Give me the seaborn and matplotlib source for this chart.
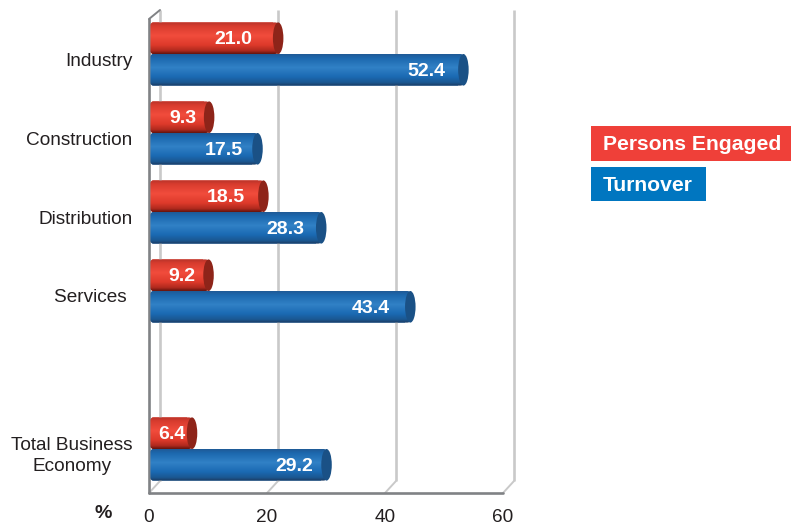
import numpy as np
import pandas as pd
import matplotlib
matplotlib.use("Agg")
import matplotlib.pyplot as plt
import matplotlib.transforms as mtrans
from matplotlib.colors import LinearSegmentedColormap
from matplotlib.patches import Ellipse, FancyBboxPatch, Rectangle
import seaborn as sns

categories = ["Industry", "Construction", "Distribution", "Services ", " ", "Total Business\nEconomy"]
persons = [21.0, 9.3, 18.5, 9.2, np.nan, 6.4]
turnover = [52.4, 17.5, 28.3, 43.4, np.nan, 29.2]
series_names = ["Persons Engaged", "Turnover"]
x_ticks = [0, 20, 40, 60]

sns.set_theme(style="white")
plt.rcParams["font.family"] = ["Liberation Sans", "DejaVu Sans"]

W, H = 791, 530
PX_X = 354 / 60   # pixels per x unit
PX_Y = 79.0       # pixels per category
DEPTH_X = 11 / PX_X
DEPTH_Y = 12 / PX_Y
CAP_W = 10.5 / PX_X

fig = plt.figure(figsize=(W / 100, H / 100), dpi=100)
ax = fig.add_axes([149 / W, (H - 493) / H, 354 / W, 483 / H])

df = pd.DataFrame({
    "category": categories * 2,
    "series": [series_names[0]] * 6 + [series_names[1]] * 6,
    "value": persons + turnover,
})
palette = {series_names[0]: "#E8402F", series_names[1]: "#1E6FB8"}
sns.barplot(data=df, y="category", x="value", hue="series", order=categories,
            hue_order=series_names, palette=palette, orient="h", dodge=True,
            width=0.8, gap=0, saturation=1, legend=False, ax=ax, linewidth=0)

red_cm = LinearSegmentedColormap.from_list("r", [
    (0, "#b8342a"), (0.12, "#d83c2e"), (0.42, "#f14c3c"), (0.72, "#de3a2b"),
    (0.9, "#b02a1e"), (1, "#66140e")])
blue_cm = LinearSegmentedColormap.from_list("b", [
    (0, "#1f5a97"), (0.12, "#1c68ae"), (0.42, "#3181c6"), (0.72, "#1a69b2"),
    (0.9, "#1b5791"), (1, "#1b3a60")])
cap_colors = ["#8E2419", "#1A5186"]
grad = np.linspace(0, 1, 64).reshape(-1, 1)

# gaps (pixels) between the right edge of each value label and the bar value
label_gap_px = [[21, 7, 13, 8, None, 1], [13, 9, 12, 15, None, 8]]

bars = iter(ax.patches)
for s, (cmap, cap, vals) in enumerate(zip([red_cm, blue_cm], cap_colors, [persons, turnover])):
    for i, v in enumerate(vals):
        if np.isnan(v):
            continue
        p = next(bars)
        y0, h = p.get_y(), p.get_height()
        end = p.get_width() + CAP_W / 2
        clip = FancyBboxPatch((0.25, y0), end - 0.25, h,
                              boxstyle="round,pad=0,rounding_size=0.5",
                              mutation_aspect=0.076, transform=ax.transData,
                              fc="none", ec="none")
        ax.add_patch(clip)
        p.set_clip_path(clip)
        im = ax.imshow(grad, cmap=cmap, aspect="auto", origin="upper",
                       extent=[0, end, y0 + h, y0], zorder=3 + s * 0.1,
                       interpolation="bilinear")
        im.set_clip_path(clip)
        ax.add_patch(Ellipse((end, y0 + h / 2), CAP_W, h, fc=cap, ec="none",
                             zorder=3.05 + s * 0.1, clip_on=False))
        ax.annotate(f"{v:.1f}", xy=(p.get_width(), y0 + h / 2),
                    xytext=(-label_gap_px[s][i] * 0.72, -1), textcoords="offset points",
                    ha="right", va="center", color="white", fontsize=14, fontweight="bold",
                    zorder=5)

ax.set_xlim(0, 60)
ax.set_ylim(5.557, -0.557)
ax.set_xticks(x_ticks)
ax.set_xlabel("")
ax.set_ylabel("")
ax.tick_params(axis="both", length=0)
ax.tick_params(axis="x", pad=11.5, labelsize=13.7, labelcolor="#231f20")
ax.tick_params(axis="y", pad=12, labelsize=13.7, labelcolor="#231f20")
for lab in ax.get_yticklabels():
    multi = "\n" in lab.get_text()
    lab.set_multialignment("center")
    lab.set_linespacing(1.3)
    shift = -3 if multi else -5
    lab.set_transform(lab.get_transform() + mtrans.ScaledTranslation(0, shift / 100, fig.dpi_scale_trans))
for sp in ax.spines.values():
    sp.set_visible(False)
ax.patch.set_alpha(0)

# Pseudo-3D frame
bot, top_front, top_back = 5.557, -0.443, -0.557
for t in x_ticks:
    ax.plot([t + DEPTH_X] * 2, [bot - DEPTH_Y, top_back], color="#c9c9c9", lw=1.9,
            clip_on=False, zorder=1, solid_capstyle="butt")
    ax.plot([t, t + DEPTH_X], [bot, bot - DEPTH_Y], color="#c9c9c9", lw=1.4,
            clip_on=False, zorder=1)
ax.plot([0, 0], [bot, top_front], color="#808285", lw=1.9, clip_on=False, zorder=2)
ax.plot([0, DEPTH_X], [top_front, top_back], color="#808285", lw=1.4, clip_on=False, zorder=2)
ax.plot([0, 60], [bot, bot], color="#808285", lw=1.9, clip_on=False, zorder=2)

fig.text(103 / W, (H - 514) / H, "%", ha="center", va="center", fontsize=14,
         fontweight="bold", color="#231f20")

# Legend boxes
legend_colors = ["#EF4039", "#0076C0"]
boxes = [(591, 126, 200, 35), (591, 167, 115, 34)]
for name, col, (bx, by, bw, bh) in zip(series_names, legend_colors, boxes):
    fig.add_artist(Rectangle((bx / W, (H - by - bh) / H), bw / W, bh / H,
                             transform=fig.transFigure, fc=col, ec="none"))
    fig.text(603 / W, (H - by - bh / 2 - 1.5) / H, name, ha="left", va="center", color="white",
             fontsize=15.2, fontweight="bold")

fig.savefig("out.png", dpi=100, facecolor="white")
